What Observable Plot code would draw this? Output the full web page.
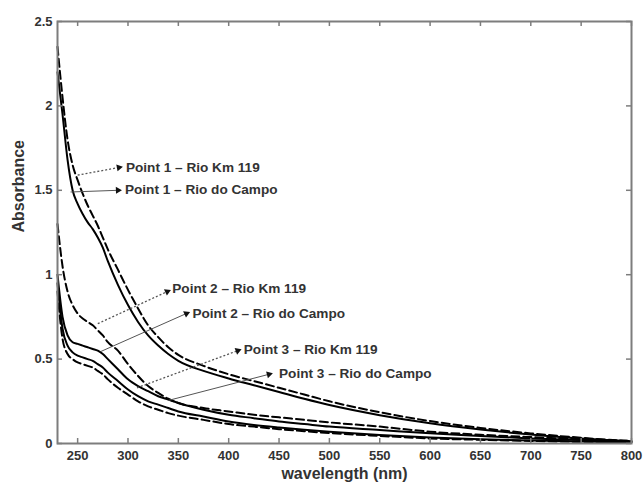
<!DOCTYPE html>
<html>
<head>
<meta charset="utf-8">
<script src="https://cdn.jsdelivr.net/npm/d3@7"></script>
<script src="https://cdn.jsdelivr.net/npm/@observablehq/plot@0.6"></script>
<style>
  html, body { margin: 0; padding: 0; background: #fff; }
  #chart { width: 644px; height: 483px; }
</style>
</head>
<body>
<div id="chart"></div>
<script>
// ---- data ----
const wavelengths = [230, 235, 240, 245, 250, 255, 260, 265, 270, 275, 280, 290, 300, 310, 320, 330, 340, 350, 375, 400, 425, 450, 475, 500, 550, 600, 650, 700, 750, 800];

const p1Km119   = [2.35, 2.05, 1.80, 1.65, 1.56, 1.48, 1.41, 1.35, 1.29, 1.22, 1.15, 1.03, 0.91, 0.80, 0.70, 0.63, 0.57, 0.525, 0.46, 0.41, 0.37, 0.33, 0.29, 0.25, 0.185, 0.133, 0.092, 0.06, 0.034, 0.014];
const p1Campo   = [2.20, 1.95, 1.68, 1.50, 1.42, 1.36, 1.31, 1.27, 1.22, 1.16, 1.08, 0.94, 0.82, 0.72, 0.64, 0.58, 0.53, 0.49, 0.43, 0.385, 0.345, 0.305, 0.265, 0.228, 0.168, 0.12, 0.083, 0.053, 0.03, 0.012];
const p2Km119   = [1.30, 1.05, 0.90, 0.82, 0.77, 0.74, 0.72, 0.70, 0.67, 0.64, 0.60, 0.55, 0.47, 0.40, 0.34, 0.30, 0.265, 0.24, 0.21, 0.19, 0.17, 0.155, 0.14, 0.125, 0.10, 0.07, 0.052, 0.038, 0.025, 0.015];
const p2Campo   = [1.00, 0.75, 0.64, 0.60, 0.59, 0.58, 0.57, 0.56, 0.55, 0.53, 0.50, 0.44, 0.38, 0.34, 0.31, 0.28, 0.26, 0.24, 0.20, 0.17, 0.15, 0.13, 0.115, 0.10, 0.08, 0.06, 0.045, 0.03, 0.02, 0.01];
const p3Campo   = [0.95, 0.68, 0.58, 0.54, 0.52, 0.51, 0.50, 0.49, 0.47, 0.45, 0.42, 0.37, 0.32, 0.28, 0.25, 0.23, 0.21, 0.19, 0.16, 0.13, 0.11, 0.095, 0.082, 0.07, 0.05, 0.035, 0.025, 0.018, 0.012, 0.006];
const p3Km119   = [0.90, 0.62, 0.53, 0.50, 0.48, 0.47, 0.46, 0.45, 0.43, 0.41, 0.38, 0.33, 0.29, 0.25, 0.22, 0.20, 0.18, 0.165, 0.14, 0.115, 0.10, 0.085, 0.073, 0.062, 0.045, 0.03, 0.022, 0.015, 0.01, 0.005];

const seriesNames  = ["p1Km119", "p1Campo", "p2Km119", "p2Campo", "p3Km119", "p3Campo"];
const seriesValues = [p1Km119, p1Campo, p2Km119, p2Campo, p3Km119, p3Campo];
const seriesDashed = [true, false, true, false, true, false];

const xTicks = [250, 300, 350, 400, 450, 500, 550, 600, 650, 700, 750, 800];
const yTicks = [0, 0.5, 1, 1.5, 2, 2.5];
const yTickLabels = ["0", "0.5", "1", "1.5", "2", "2.5"];

// annotations: label text, text anchor position, arrow start (on curve), arrow end
const annLabels = ["Point 1 \u2013 Rio Km 119", "Point 1 \u2013 Rio do Campo", "Point 2 \u2013 Rio Km 119", "Point 2 \u2013 Rio do Campo", "Point 3 \u2013 Rio Km 119", "Point 3 \u2013 Rio do Campo"];
const annTextX  = [298, 297, 344, 364, 415, 450];
const annTextY  = [1.635, 1.505, 0.92, 0.77, 0.555, 0.415];
const annX1     = [250, 243, 270, 273, 309, 340];
const annY1     = [1.59, 1.49, 0.71, 0.545, 0.33, 0.255];
const annX2     = [291, 290, 339, 358, 409, 440];
const annY2     = [1.635, 1.50, 0.90, 0.77, 0.55, 0.41];
const annDotted = [true, false, true, false, true, false];

// ---- build tables ----
const lineRows = [];
seriesNames.forEach((name, s) => {
  wavelengths.forEach((w, i) => lineRows.push({series: name, dashed: seriesDashed[s], x: w, y: seriesValues[s][i]}));
});
const anns = annLabels.map((t, i) => ({text: t, tx: annTextX[i], ty: annTextY[i], x1: annX1[i], y1: annY1[i], x2: annX2[i], y2: annY2[i], dotted: annDotted[i]}));

const W = 644, H = 483, mL = 57, mR = 13, mT = 21, mB = 40;
const xDomain = [230, 800], yDomain = [0, 2.5];
// pixels per data unit (for inward tick lengths and arrowhead orientation)
const kx = (W - mL - mR) / (xDomain[1] - xDomain[0]);
const ky = (H - mT - mB) / (yDomain[1] - yDomain[0]);
const tickPx = 5;
const font = "'Liberation Sans', Arial, Helvetica, sans-serif";
const frameColor = "#7d7d7d";

const chart = Plot.plot({
  width: W, height: H,
  marginLeft: mL, marginRight: mR, marginTop: mT, marginBottom: mB,
  style: {fontFamily: font, background: "#fff", overflow: "visible"},
  x: {domain: xDomain},
  y: {domain: yDomain},
  marks: [
    // curves
    Plot.line(lineRows.filter(d => !d.dashed), {x: "x", y: "y", z: "series", stroke: "#000", strokeWidth: 2, curve: "monotone-x"}),
    Plot.line(lineRows.filter(d => d.dashed), {x: "x", y: "y", z: "series", stroke: "#000", strokeWidth: 2, strokeDasharray: "8,4", curve: "monotone-x"}),
    // annotation arrows
    Plot.link(anns.filter(d => d.dotted), {x1: "x1", y1: "y1", x2: "x2", y2: "y2", stroke: "#555", strokeWidth: 1.3, strokeDasharray: "2,2"}),
    Plot.link(anns.filter(d => !d.dotted), {x1: "x1", y1: "y1", x2: "x2", y2: "y2", stroke: "#555", strokeWidth: 1}),
    Plot.dot(anns, {x: "x2", y: "y2", symbol: "triangle", r: 2.6, fill: "#111", stroke: "none",
      rotate: d => Math.atan2((d.x2 - d.x1) * kx, (d.y2 - d.y1) * ky) * 180 / Math.PI}),
    Plot.text(anns, {x: "tx", y: "ty", text: "text", textAnchor: "start", fontSize: 13.6, fontWeight: "bold", fill: "#333"}),
    // frame
    Plot.frame({stroke: frameColor, strokeWidth: 2}),
    // inward ticks on all four sides
    Plot.ruleX(xTicks, {x: d => d, y1: 0, y2: tickPx / ky, stroke: frameColor, strokeWidth: 1.5}),
    Plot.ruleX(xTicks, {x: d => d, y1: 2.5, y2: 2.5 - tickPx / ky, stroke: frameColor, strokeWidth: 1.5}),
    Plot.ruleY(yTicks, {y: d => d, x1: 230, x2: 230 + tickPx / kx, stroke: frameColor, strokeWidth: 1.5}),
    Plot.ruleY(yTicks, {y: d => d, x1: 800, x2: 800 - tickPx / kx, stroke: frameColor, strokeWidth: 1.5}),
    // tick labels
    Plot.axisX(xTicks, {tickSize: 0, tickPadding: 7, fontSize: 13, fontWeight: "bold", fill: "#333", label: null}),
    Plot.axisY(yTicks, {tickSize: 0, tickPadding: 5, fontSize: 13, fontWeight: "bold", fill: "#333", label: null,
      tickFormat: (d, i) => yTickLabels[yTicks.indexOf(d)]}),
    // axis titles
    Plot.text(["Absorbance"], {frameAnchor: "left", dx: -39, rotate: -90, text: d => d, fontSize: 16, fontWeight: "bold", fill: "#333", lineAnchor: "middle"}),
    Plot.text(["wavelength (nm)"], {frameAnchor: "bottom", dy: 30, text: d => d, fontSize: 16, fontWeight: "bold", fill: "#333", lineAnchor: "middle"})
  ]
});
document.getElementById("chart").appendChild(chart);
</script>
</body>
</html>
